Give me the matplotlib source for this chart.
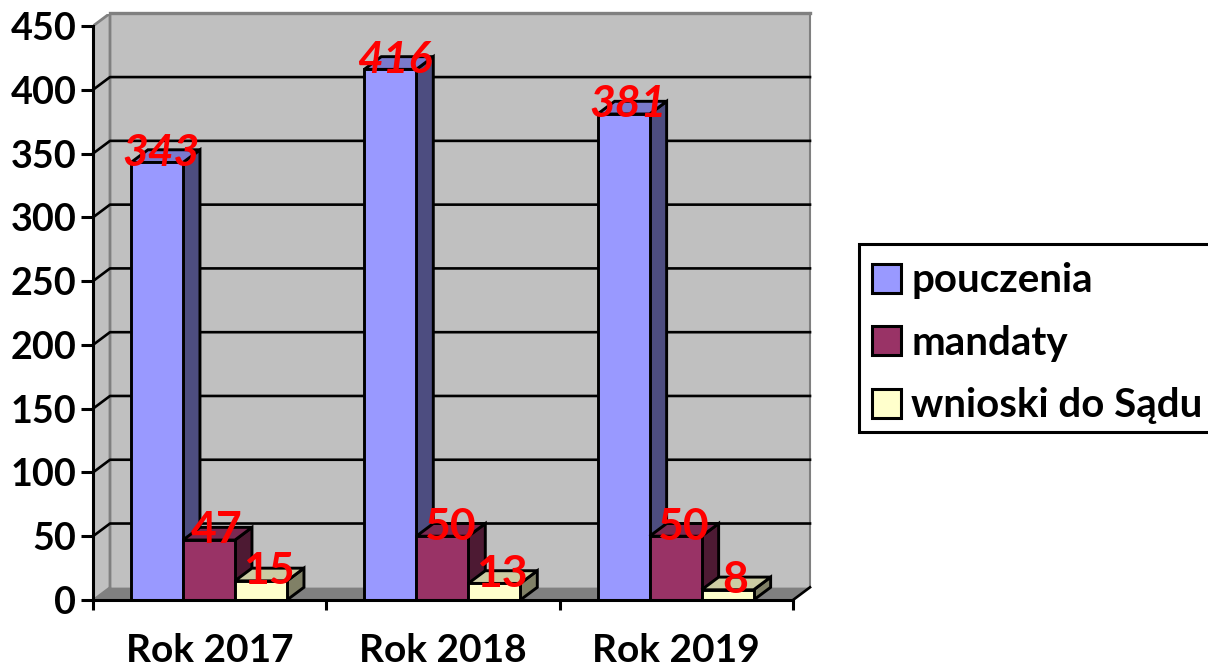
import matplotlib
matplotlib.use("Agg")
import matplotlib.pyplot as plt
from matplotlib.patches import Patch, Polygon, Rectangle

categories = ["Rok 2017", "Rok 2018", "Rok 2019"]
series_names = ["pouczenia", "mandaty", "wnioski do Sądu"]
pouczenia = [343, 416, 381]
mandaty = [47, 50, 50]
wnioski = [15, 13, 8]
y_ticks = [0, 50, 100, 150, 200, 250, 300, 350, 400, 450]

W, H = 1208, 666
plt.rcParams["font.family"] = ["Lato", "DejaVu Sans"]
plt.rcParams["font.weight"] = "bold"

fig = plt.figure(figsize=(W / 100, H / 100), dpi=100, facecolor="white")
L, R, T, B = 93, 810, 13.5, 600
ax = fig.add_axes([L / W, 1 - B / H, (R - L) / W, (B - T) / H])
px_x = 700 / 3          # pixels per category
px_y = 574 / 450        # pixels per unit
dx = 17 / px_x
dy = 12.7 / px_y
ax.set_xlim(0, (R - L) / px_x)
ax.set_ylim(0, (B - T) / px_y)
xmax = ax.get_xlim()[1]
top = y_ticks[-1]
ax.patch.set_visible(False)

WALL, FLOOR, EDGE = "#C0C0C0", "#808080", "#808080"
# walls and floor
ax.add_patch(Polygon([(0, 0), (dx, dy), (dx, top + dy), (0, top)], fc=WALL, ec="none", zorder=1))
ax.add_patch(Rectangle((dx, dy), xmax - dx, top, fc=WALL, ec="none", zorder=1))
ax.add_patch(Polygon([(0, 0), (3, 0), (xmax, dy), (dx, dy)], fc=FLOOR, ec="none", zorder=1))
ax.plot([0, dx, dx], [top, top + dy, dy], color=EDGE, lw=2, zorder=2, solid_joinstyle="miter")
ax.plot([dx, xmax], [top + dy, top + dy], color=EDGE, lw=2.4, zorder=2, clip_on=False)
ax.plot([xmax, xmax], [dy, top + dy], color=EDGE, lw=1.5, zorder=2, clip_on=False)
ax.plot([0, dx], [0, dy], color=EDGE, lw=1.5, zorder=2)
# gridlines
for v in y_ticks[1:-1]:
    ax.plot([0, dx, xmax], [v, v + dy, v + dy], color="black", lw=1.9, zorder=2, clip_on=False)
ax.plot([3, xmax], [0, dy], color="black", lw=1.9, zorder=2, clip_on=False)

bar_w = 52 / px_x
styles = [
    ("#9999FF", "#4D4D80", "#7A7ACC"),
    ("#993366", "#4D1A33", "#7A2952"),
    ("#FFFFCC", "#808066", "#CCCCA3"),
]
all_series = [pouczenia, mandaty, wnioski]
for s, (vals, (front, side, topc)) in enumerate(zip(all_series, styles)):
    for c, v in enumerate(vals):
        x0 = c + 0.5 + (s - 1.5) * bar_w - 0.003
        x1 = x0 + bar_w
        z = 3 + 0.1 * s
        kw = dict(ec="black", lw=2.1, joinstyle="miter", zorder=z)
        ax.add_patch(Polygon([(x1, 0), (x1 + dx, dy), (x1 + dx, v + dy), (x1, v)], fc=side, **kw))
        ax.add_patch(Polygon([(x0, v), (x0 + dx, v + dy), (x1 + dx, v + dy), (x1, v)], fc=topc, **kw))
        ax.add_patch(Rectangle((x0, 0), bar_w, v, fc=front, **kw))
for s, vals in enumerate(all_series):
    for c, v in enumerate(vals):
        xc = c + 0.5 + (s - 1) * bar_w - 0.003
        ax.annotate(str(v), (xc, v), xytext=(3.2 if s == 0 else 5.5, 9.5), textcoords="offset points",
                    ha="center", va="center_baseline", color="#FF0000", fontsize=32,
                    fontweight="bold", fontstyle="italic" if s == 0 else "normal",
                    zorder=10, annotation_clip=False)

# axes furniture
for side_name in ("top", "right"):
    ax.spines[side_name].set_visible(False)
ax.spines["left"].set_bounds(0, top)
ax.spines["bottom"].set_bounds(0, 3)
for side_name in ("left", "bottom"):
    ax.spines[side_name].set_linewidth(2.2)
    ax.spines[side_name].set_zorder(6)
ax.set_yticks(y_ticks)
ax.set_yticklabels([str(v) for v in y_ticks])
ax.tick_params(axis="y", length=9, width=2.2, pad=3, labelsize=27.2)
ax.set_xticks(range(len(categories) + 1))
ax.set_xticklabels([])
ax.tick_params(axis="x", which="major", length=7.5, width=2.2)
ax.set_xticks([i + 0.5 for i in range(len(categories))], minor=True)
ax.set_xticklabels(categories, minor=True)
ax.tick_params(axis="x", which="minor", length=0, pad=23.5, labelsize=28)

# legend: frame drawn separately so it can run off the right edge like the original
fig.add_artist(Rectangle((859 / W, 1 - 432 / H), 360 / W, 188 / H, transform=fig.transFigure,
                         fc="white", ec="black", lw=2.2, zorder=1))
handles = [Patch(fc=st[0], ec="black", lw=2.2) for st in styles]
leg = fig.legend(handles, series_names, loc="upper left",
                 bbox_to_anchor=(859 / W, 1 - 249 / H), bbox_transform=fig.transFigure,
                 fontsize=29, frameon=False, handlelength=0.72, handleheight=0.72,
                 handletextpad=0.25, labelspacing=0.635, borderpad=0.33, borderaxespad=0)
leg.set_zorder(2)

fig.savefig("out.png", dpi=100)
